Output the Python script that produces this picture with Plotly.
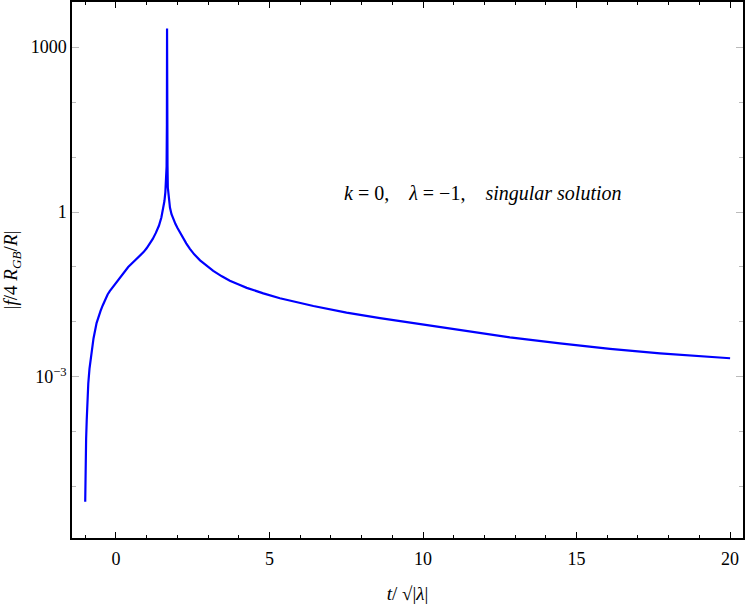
import plotly.graph_objects as go

# t / sqrt(|lambda|)
t_vals = [-1.0, -0.998, -0.99, -0.98, -0.97, -0.95, -0.93, -0.90, -0.86, -0.80,
          -0.73, -0.63, -0.56, -0.50, -0.43, -0.35, -0.27, -0.20, -0.10, 0.0,
          0.10, 0.20, 0.30, 0.40, 0.50, 0.60, 0.70, 0.80, 0.90, 1.00,
          1.10, 1.20, 1.30, 1.40, 1.48, 1.54, 1.58, 1.61, 1.635, 1.65,
          1.66, 1.665, 1.67, 1.68, 1.69, 1.72, 1.76, 1.81, 1.87, 1.94,
          2.01, 2.08, 2.18, 2.29, 2.41, 2.55, 2.74, 2.95, 3.17, 3.45,
          3.71, 4.00, 4.26, 4.80, 5.34, 6.43, 7.51, 8.60, 9.68, 10.77,
          11.86, 12.83, 14.46, 16.09, 17.72, 20.0]
# log10 |f / 4 R_GB / R|
log_f_vals = [-5.27, -5.0, -4.69, -4.38, -4.12, -3.78, -3.48, -3.12, -2.85, -2.56,
              -2.30, -2.02, -1.89, -1.80, -1.70, -1.59, -1.50, -1.44, -1.365, -1.29,
              -1.21, -1.135, -1.065, -1.0, -0.945, -0.895, -0.845, -0.79, -0.73, -0.66,
              -0.58, -0.49, -0.38, -0.25, -0.10, 0.05, 0.20, 0.36, 0.56, 0.82,
              1.6, 3.34, 1.6, 0.85, 0.45, 0.22, 0.08, -0.04, -0.14, -0.22,
              -0.295, -0.365, -0.47, -0.57, -0.67, -0.77, -0.88, -0.98, -1.07, -1.17,
              -1.25, -1.32, -1.38, -1.48, -1.57, -1.71, -1.83, -1.93, -2.02, -2.11,
              -2.20, -2.28, -2.39, -2.49, -2.57, -2.66]
f_vals = [10 ** v for v in log_f_vals]

x_major = [0, 5, 10, 15, 20]
y_major = [1e-3, 1, 1e3]
y_major_text = ["10<sup>−3</sup>", "1", "1000"]
y_minor = [1e-5, 1e-4, 1e-3, 1e-2, 1e-1, 1, 10, 100, 1000]

serif = "Liberation Serif, Times New Roman, serif"

fig = go.Figure()
fig.add_trace(go.Scatter(x=t_vals, y=f_vals, mode="lines",
                         line=dict(color="#0000ff", width=2.2),
                         showlegend=False, hoverinfo="skip"))

fig.add_annotation(x=11.94, y=0.33, xref="x", yref="y",
                   text="<i>k</i> = 0,    <i>λ</i> = −1,    <i>singular solution</i>",
                   showarrow=False, font=dict(family=serif, size=20, color="black"),
                   xanchor="center", yanchor="middle")

fig.update_layout(
    width=747, height=604,
    margin=dict(l=72, r=4, t=2, b=66),
    paper_bgcolor="white", plot_bgcolor="white",
    font=dict(family=serif, size=17, color="black"),
    xaxis=dict(
        range=[-1.43, 20.42], tickmode="array", tickvals=x_major,
        ticks="inside", ticklen=6, tickwidth=1, tickcolor="black",
        showline=True, linecolor="black", linewidth=1.5, mirror="allticks",
        showgrid=False, zeroline=False, automargin=False,
        ticklabelstandoff=4,
        tickfont=dict(family=serif, size=18),
        minor=dict(tickmode="linear", tick0=0, dtick=1, ticks="inside",
                   ticklen=3.5, tickcolor="black", tickwidth=1, showgrid=False),
        title=dict(text="<i>t</i>/ √|<i>λ</i>|", font=dict(family=serif, size=19), standoff=18),
    ),
    yaxis=dict(
        type="log", range=[-5.93, 3.82], tickmode="array",
        tickvals=y_major, ticktext=y_major_text,
        ticks="inside", ticklen=7, tickwidth=1, tickcolor="#bbbbbb",
        showline=True, linecolor="black", linewidth=1.5, mirror="allticks",
        showgrid=False, zeroline=False, automargin=False,
        tickfont=dict(family=serif, size=18),
        minor=dict(tickmode="array", tickvals=y_minor, ticks="inside",
                   ticklen=4, tickcolor="#bbbbbb", tickwidth=1, showgrid=False),
        title=dict(text="|<i>f</i>/4 <i>R</i><sub><i>GB</i></sub>/<i>R</i>|",
                   font=dict(family=serif, size=19), standoff=8),
    ),
)

fig.write_html("out.html", config={"displayModeBar": False},
               post_script="document.body.style.margin='0';document.body.style.padding='0';")
